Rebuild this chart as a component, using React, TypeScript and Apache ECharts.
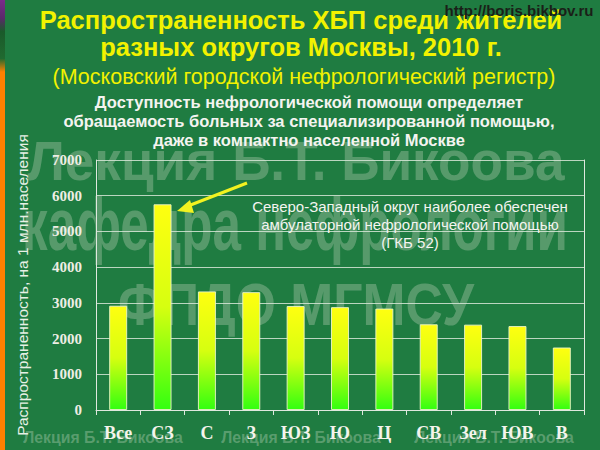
import React, { useEffect, useRef } from "react";
import * as echarts from "echarts";

const categories = ["Все", "СЗ", "С", "З", "ЮЗ", "Ю", "Ц", "СВ", "Зел", "ЮВ", "В"];
const prevalence = [2920, 5760, 3320, 3300, 2910, 2880, 2840, 2400, 2390, 2350, 1750];
const yTicks = { min: 0, max: 7000, interval: 1000 };

const titleLines = ["Распространенность ХБП среди жителей", "разных округов Москвы, 2010 г."];
const subtitle = "(Московский городской нефрологический регистр)";
const noteLines = [
  "Доступность нефрологической помощи определяет",
  "обращаемость больных за специализированной помощью,",
  "даже в компактно населенной Москве",
];
const annotationLines = [
  "Северо-Западный округ наиболее обеспечен",
  "амбулаторной нефрологической помощью",
  "(ГКБ 52)",
];
const watermarkLines = ["Лекция Б.Т. Бикоова", "кафедра нефрологии", "ФПДО МГМСУ"];
const footerWatermark = "Лекция Б.Т. Бикоова";
const yAxisName = "Распространенность, на 1 млн.населения";
const url = "http://boris.bikbov.ru";

export default function App() {
  const ref = useRef<HTMLDivElement>(null);
  useEffect(() => {
    if (!ref.current) return;
    const chart = echarts.init(ref.current, null, { renderer: "svg" });
    const sans = "Liberation Sans, Arial, sans-serif";
    const serif = "Liberation Serif, Times New Roman, serif";
    const wmStyle = {
      fill: "rgba(165,195,168,0.42)",
      textAlign: "center" as const,
      textVerticalAlign: "middle" as const,
      shadowBlur: 6,
      shadowColor: "rgba(210,240,210,0.55)",
    };
    const wmCfg = [
      { x: 296, y: 161, size: 56, sx: 0.95, sy: 1.0 },
      { x: 295, y: 224, size: 64, sx: 0.8, sy: 1.15 },
      { x: 296, y: 304, size: 60, sx: 0.86, sy: 1.0 },
    ];
    chart.setOption({
      animation: false,
      backgroundColor: "#1f7c41",
      grid: { left: 96, right: 16, top: 160, bottom: 40 },
      xAxis: {
        type: "category",
        data: categories,
        axisLine: { show: true, lineStyle: { color: "#dfe8df", width: 1 } },
        axisTick: { show: true, length: 5, lineStyle: { color: "#dfe8df" } },
        axisLabel: {
          color: "#f4f4ec",
          fontFamily: serif,
          fontWeight: "bold",
          fontSize: 18,
          margin: 14,
        },
      },
      yAxis: [
        {
          type: "value",
          min: yTicks.min,
          max: yTicks.max,
          interval: yTicks.interval,
          name: yAxisName,
          nameLocation: "middle",
          nameGap: 66,
          nameTextStyle: { color: "#e8f0e6", fontFamily: sans, fontSize: 15.5 },
          axisLine: { show: true, lineStyle: { color: "#dfe8df", width: 1 } },
          axisTick: { show: false },
          axisLabel: {
            color: "#eeeee4",
            fontFamily: serif,
            fontWeight: "bold",
            fontSize: 15,
            margin: 14,
            formatter: (v: number) => String(v),
          },
          splitLine: { show: true, lineStyle: { color: "rgba(215,230,215,0.85)", width: 1 } },
        },
        {
          type: "value",
          min: yTicks.min,
          max: yTicks.max,
          interval: yTicks.interval,
          position: "right",
          axisLine: { show: true, lineStyle: { color: "#dfe8df", width: 1 } },
          axisTick: { show: false },
          axisLabel: { show: false },
          splitLine: { show: false },
        },
      ],
      series: [
        {
          type: "bar",
          data: prevalence,
          barWidth: 18,
          itemStyle: {
            color: new echarts.graphic.LinearGradient(0, 0, 0, 1, [
              { offset: 0, color: "#ffff10" },
              { offset: 0.5, color: "#d6ff10" },
              { offset: 1, color: "#33ff10" },
            ]),
            borderColor: "rgba(235,245,200,0.9)",
            borderWidth: 1,
          },
        },
      ],
      graphic: [
        {
          type: "rect",
          left: 0,
          top: 0,
          shape: { width: 5, height: 450 },
          style: {
            fill: new echarts.graphic.LinearGradient(0, 0, 0, 1, [
              { offset: 0, color: "#7a2a8a" },
              { offset: 0.04, color: "#5a2a6a" },
              { offset: 0.07, color: "#1a5a2a" },
              { offset: 0.13, color: "#206a30" },
              { offset: 0.16, color: "#ff8000" },
              { offset: 1, color: "#ff8000" },
            ]),
          },
          z: 10,
        },
        ...watermarkLines.map((t, i) => ({
          type: "text",
          x: wmCfg[i].x,
          y: wmCfg[i].y,
          scaleX: wmCfg[i].sx,
          scaleY: wmCfg[i].sy,
          style: { ...wmStyle, text: t, font: `bold ${wmCfg[i].size}px ${sans}` },
          z: 0,
        })),
        ...[103, 301, 494].map((x) => ({
          type: "text",
          x,
          y: 437,
          scaleX: 0.93,
          style: {
            ...wmStyle,
            text: footerWatermark,
            font: "bold 17px " + sans,
            fill: "rgba(165,200,168,0.45)",
            shadowBlur: 3,
          },
          z: 0,
        })),
        {
          type: "text",
          x: 519,
          y: 10,
          style: {
            text: url,
            fill: "#1a1f18",
            font: "bold 15px " + sans,
            textAlign: "center",
            textVerticalAlign: "middle",
            shadowBlur: 8,
            shadowColor: "rgba(230,240,200,0.9)",
          },
          z: 20,
        },
        ...titleLines.map((t, i) => ({
          type: "text",
          x: 301,
          y: 20 + i * 27,
          style: {
            text: t,
            fill: "#f2f200",
            font: "bold 25.5px " + sans,
            textAlign: "center",
            textVerticalAlign: "middle",
          },
          z: 15,
        })),
        {
          type: "text",
          x: 304,
          y: 77,
          style: {
            text: subtitle,
            fill: "#f2f200",
            font: "21.5px " + sans,
            textAlign: "center",
            textVerticalAlign: "middle",
          },
          z: 15,
        },
        ...noteLines.map((t, i) => ({
          type: "text",
          x: 309,
          y: 102 + i * 19,
          style: {
            text: t,
            fill: "#f4f4f0",
            font: "bold 16.5px " + sans,
            textAlign: "center",
            textVerticalAlign: "middle",
          },
          z: 15,
        })),
        ...annotationLines.map((t, i) => ({
          type: "text",
          x: 410,
          y: 206 + i * 18,
          style: {
            text: t,
            fill: "#f4f4f0",
            font: "15px " + sans,
            textAlign: "center",
            textVerticalAlign: "middle",
          },
          z: 15,
        })),
        {
          type: "line",
          shape: { x1: 247, y1: 183, x2: 188, y2: 206 },
          style: { stroke: "#f2f220", lineWidth: 3 },
          z: 15,
        },
        {
          type: "polygon",
          shape: { points: [[177, 211], [190, 200], [194, 213]] },
          style: { fill: "#f2f220" },
          z: 15,
        },
      ],
    });
    return () => chart.dispose();
  }, []);
  return (
    <div
      ref={ref}
      style={{ position: "fixed", left: 0, top: 0, width: 600, height: 450 }}
    />
  );
}
